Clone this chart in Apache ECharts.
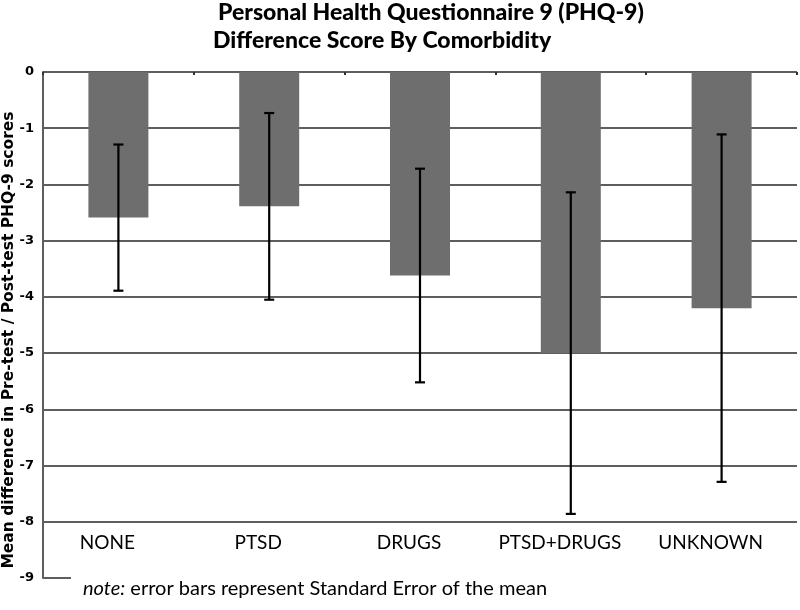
<!DOCTYPE html>
<html>
<head>
<meta charset="utf-8">
<script src="https://cdn.jsdelivr.net/npm/echarts@6/dist/echarts.min.js"></script>
<style>
html,body{margin:0;padding:0;background:#fff;}
#chart{width:800px;height:610px;}
</style>
</head>
<body>
<div id="chart"></div>
<script>
const categories = ['NONE', 'PTSD', 'DRUGS', 'PTSD+DRUGS', 'UNKNOWN'];
const meanDiff = [-2.59, -2.39, -3.62, -5.00, -4.20];
const stdErr = [1.30, 1.66, 1.90, 2.86, 3.09];
const yTicks = [0, -1, -2, -3, -4, -5, -6, -7, -8, -9];

const chart = echarts.init(document.getElementById('chart'));
const gridColor = '#5e5e5e';

const errData = meanDiff.map((m, i) => [i, m - stdErr[i], m + stdErr[i]]);

chart.setOption({
  animation: false,
  backgroundColor: '#fff',
  graphic: [
    { type: 'text', left: 218, top: 1, style: { text: 'Personal Health Questionnaire 9 (PHQ-9)', font: '900 23px Lato', fill: '#000' } },
    { type: 'text', left: 213, top: 29, style: { text: 'Difference Score By Comorbidity', font: '900 23px Lato', fill: '#000' } },
    { type: 'text', x: 9, y: 340, rotation: Math.PI / 2,
      style: { text: 'Mean difference in Pre-test / Post-test PHQ-9 scores', font: 'bold 15.5px "DejaVu Sans"', fill: '#000', align: 'center', verticalAlign: 'middle' } },
    { type: 'text', left: 83, top: 579,
      style: { text: '{i|note:} error bars represent Standard Error of the mean', font: '20px Lato', fill: '#000',
        rich: { i: { font: 'italic 20px Lato', fill: '#000' } } } }
  ],
  grid: { left: 43, right: 3, top: 72, bottom: 32, containLabel: false },
  xAxis: [
    { type: 'category', data: categories, position: 'bottom',
      axisLine: { show: false }, axisTick: { show: false },
      axisLabel: { inside: true, interval: 0, margin: 26, color: '#000', fontFamily: 'Lato', fontSize: 19, padding: [0, 22, 0, 0] } },
    { type: 'category', data: categories, position: 'top',
      axisLine: { show: false }, axisLabel: { show: false },
      axisTick: { show: true, inside: true, length: 3, lineStyle: { color: '#333', width: 2 } } }
  ],
  yAxis: {
    type: 'value', min: -9, max: 0, interval: 1,
    axisLine: { show: true, lineStyle: { color: gridColor, width: 2 } },
    axisTick: { show: true, inside: true, length: 28, lineStyle: { color: gridColor, width: 2 } },
    axisLabel: { color: '#000', fontFamily: 'DejaVu Sans', fontWeight: 'bold', fontSize: 13, margin: 9 },
    splitLine: { show: true, showMinLine: false, lineStyle: { color: gridColor, width: 2 } }
  },
  series: [
    { type: 'bar', data: meanDiff, barWidth: 60, itemStyle: { color: '#6e6e6e' }, z: 2 },
    { type: 'custom', data: errData, z: 5,
      renderItem: function (params, api) {
        const i = api.value(0);
        const lo = api.coord([i, api.value(1)]);
        const hi = api.coord([i, api.value(2)]);
        const cap = 5;
        const st = { stroke: '#000', lineWidth: 2.2 };
        return { type: 'group', children: [
          { type: 'line', shape: { x1: lo[0], y1: lo[1], x2: hi[0], y2: hi[1] }, style: st },
          { type: 'line', shape: { x1: lo[0] - cap, y1: lo[1], x2: lo[0] + cap, y2: lo[1] }, style: st },
          { type: 'line', shape: { x1: hi[0] - cap, y1: hi[1], x2: hi[0] + cap, y2: hi[1] }, style: st }
        ] };
      } }
  ]
});
</script>
</body>
</html>
